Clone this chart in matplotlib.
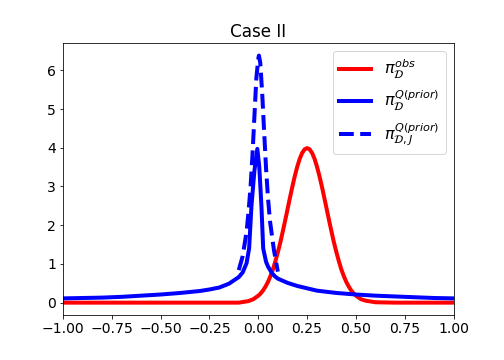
import matplotlib
matplotlib.use("Agg")
import matplotlib.pyplot as plt

# Observed density (red)
x_obs = [-1.0, -0.5, -0.2, -0.1, -0.05, -0.025, 0.0, 0.0125, 0.025, 0.0375, 0.05, 0.0625, 0.075,
         0.0875, 0.1, 0.1125, 0.125, 0.1375, 0.15, 0.1625, 0.175, 0.1875, 0.2, 0.2125,
         0.225, 0.2375, 0.25, 0.2625, 0.275, 0.2875, 0.3, 0.3125, 0.325, 0.3375, 0.35,
         0.3625, 0.375, 0.3875, 0.4, 0.4125, 0.425, 0.4375, 0.45, 0.4625, 0.475, 0.4875,
         0.5, 0.525, 0.55, 0.6, 0.7, 1.0]
y_obs = [0.0, 0.0, 0.0, 0.0, 0.04, 0.09, 0.18, 0.24, 0.32, 0.42, 0.54, 0.69, 0.86,
         1.07, 1.30, 1.55, 1.83, 2.12, 2.42, 2.72, 3.01, 3.28, 3.52, 3.72,
         3.87, 3.96, 3.99, 3.96, 3.87, 3.72, 3.52, 3.28, 3.01, 2.72, 2.42,
         2.12, 1.83, 1.55, 1.30, 1.07, 0.86, 0.69, 0.54, 0.42, 0.32, 0.24,
         0.18, 0.09, 0.05, 0.01, 0.0, 0.0]

# Push-forward of prior (blue solid)
x_prior = [-1.0, -0.9, -0.8, -0.7, -0.6, -0.5, -0.4, -0.3, -0.25, -0.2, -0.15, -0.1, -0.08,
           -0.06, -0.047, -0.035, -0.02, -0.005, 0.005, 0.016, 0.025, 0.04, 0.05, 0.07,
           0.085, 0.1, 0.15, 0.2, 0.25, 0.3, 0.4, 0.5, 0.6, 0.7, 0.8, 0.9, 1.0]
y_prior = [0.11, 0.12, 0.13, 0.15, 0.18, 0.21, 0.25, 0.30, 0.34, 0.39, 0.49, 0.66, 0.78,
           1.02, 1.40, 2.50, 3.40, 3.97, 3.50, 2.50, 1.40, 1.05, 0.93, 0.76,
           0.68, 0.62, 0.51, 0.43, 0.37, 0.31, 0.25, 0.21, 0.18, 0.16, 0.14, 0.12, 0.11]

# Push-forward of prior, J (blue dashed)
x_priorJ = [-0.1, -0.08, -0.06, -0.05, -0.04, -0.03, -0.02, -0.01, 0.0, 0.003, 0.01, 0.02,
            0.03, 0.04, 0.05, 0.06, 0.08, 0.1]
y_priorJ = [0.84, 1.20, 1.83, 2.35, 2.96, 3.80, 4.80, 5.80, 6.30, 6.38, 6.20, 5.40,
            4.40, 3.44, 2.68, 2.10, 1.36, 0.80]

labels = [r'$\pi_{\mathcal{D}}^{obs}$', r'$\pi_{\mathcal{D}}^{Q(prior)}$',
          r'$\pi_{\mathcal{D},J}^{Q(prior)}$']
title = "Case II"

plt.rcParams['font.size'] = 14
fig, ax = plt.subplots(figsize=(7, 5), dpi=72)
fig.subplots_adjust(left=0.125, right=0.9, top=0.88, bottom=0.125)

ax.plot(x_obs, y_obs, color='red', lw=4, label=labels[0])
ax.plot(x_prior, y_prior, color='blue', lw=4, label=labels[1])
ax.plot(x_priorJ, y_priorJ, color='blue', lw=4, ls='--', label=labels[2])
ax.set_xlim(-1, 1)
ax.set_xticks([-1.0, -0.75, -0.5, -0.25, 0.0, 0.25, 0.5, 0.75, 1.0])
ax.set_title(title)
ax.legend(fontsize=16)

fig.savefig("out.png", dpi=72)
